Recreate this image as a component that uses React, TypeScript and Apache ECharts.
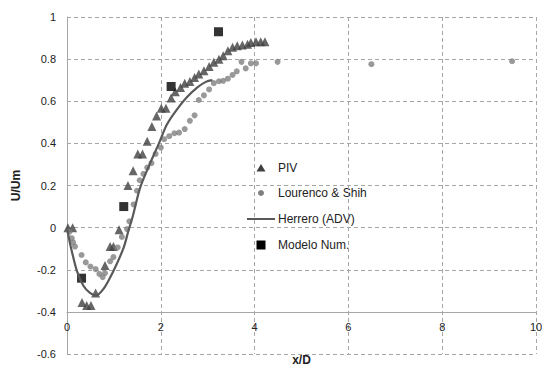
import React, { useEffect, useRef } from "react";
import * as echarts from "echarts";

const pivX = [0.02, 0.12, 0.32, 0.42, 0.51, 0.61, 0.81, 0.92, 0.99, 1.11, 1.3, 1.41, 1.51, 1.61, 1.71, 1.81, 1.91, 2.01, 2.11, 2.22, 2.31, 2.42, 2.51, 2.62, 2.72, 2.81, 2.92, 3.03, 3.13, 3.24, 3.33, 3.43, 3.53, 3.63, 3.74, 3.85, 3.92, 4.03, 4.13, 4.22];
const pivY = [0.0, 0.0, -0.355, -0.37, -0.37, -0.31, -0.18, -0.09, -0.09, -0.01, 0.2, 0.27, 0.35, 0.35, 0.41, 0.48, 0.53, 0.567, 0.567, 0.615, 0.645, 0.665, 0.686, 0.694, 0.713, 0.729, 0.745, 0.765, 0.785, 0.8, 0.816, 0.84, 0.856, 0.863, 0.867, 0.871, 0.879, 0.882, 0.882, 0.882];

const lsX = [0.05, 0.1, 0.13, 0.17, 0.31, 0.4, 0.5, 0.61, 0.69, 0.76, 0.81, 0.92, 0.99, 1.08, 1.17, 1.28, 1.33, 1.42, 1.49, 1.55, 1.63, 1.71, 1.8, 1.89, 2.0, 2.07, 2.18, 2.29, 2.39, 2.51, 2.62, 2.72, 2.81, 2.92, 3.03, 3.13, 3.24, 3.33, 3.43, 3.53, 3.62, 3.72, 3.81, 3.92, 4.03, 4.49, 6.49, 9.49];
const lsY = [-0.02, -0.05, -0.07, -0.09, -0.13, -0.165, -0.185, -0.197, -0.22, -0.235, -0.216, -0.16, -0.14, -0.094, -0.044, -0.007, 0.03, 0.11, 0.175, 0.225, 0.255, 0.285, 0.306, 0.35, 0.38, 0.42, 0.434, 0.448, 0.451, 0.468, 0.507, 0.533, 0.606, 0.628, 0.656, 0.686, 0.695, 0.697, 0.707, 0.725, 0.742, 0.787, 0.756, 0.78, 0.78, 0.787, 0.776, 0.79];

const advX = [0, 0.05, 0.1, 0.21, 0.35, 0.49, 0.62, 0.78, 0.92, 1.06, 1.21, 1.31, 1.41, 1.56, 1.78, 1.96, 2.13, 2.35, 2.56, 2.78, 2.96, 3.1];
const advY = [0, -0.06, -0.11, -0.205, -0.276, -0.31, -0.322, -0.29, -0.237, -0.173, -0.094, -0.015, 0.06, 0.19, 0.31, 0.4, 0.49, 0.563, 0.62, 0.666, 0.692, 0.7];

const modX = [0.31, 1.21, 2.22, 3.23];
const modY = [-0.24, 0.1, 0.67, 0.93];

const yTicks = [-0.6, -0.4, -0.2, 0, 0.2, 0.4, 0.6, 0.8, 1];
const xTicks = [0, 2, 4, 6, 8, 10];

const seriesNames = ["PIV", "Lourenco & Shih", "Herrero (ADV)", "Modelo Num."];

const zip = (xs: number[], ys: number[]) => xs.map((x, i) => [x, ys[i]]);

export default function App() {
  const ref = useRef<HTMLDivElement>(null);
  useEffect(() => {
    if (!ref.current) return;
    const chart = echarts.init(ref.current, null, { renderer: "svg" });
    const font = "Liberation Sans";
    const gridColor = "#a6a6a6";
    const txt = "#222";
    const lx = 261; // legend marker centre x
    const ly = [168, 193, 219, 245];
    const tx = 278;
    const legendText = (i: number) => ({
      type: "text",
      x: tx,
      y: ly[i],
      style: { text: seriesNames[i], fill: txt, font: `12px "${font}"`, textVerticalAlign: "middle", verticalAlign: "middle" },
    });
    chart.setOption({
      animation: false,
      textStyle: { fontFamily: font },
      grid: { left: 67, right: 6, top: 17, bottom: 15, containLabel: false, outerBoundsMode: "none" },
      xAxis: {
        type: "value",
        min: xTicks[0],
        max: xTicks[xTicks.length - 1],
        interval: 2,
        offset: -42.1,
        axisLine: { show: true, onZero: false, lineStyle: { color: "#a6a6a6", width: 1 } },
        axisTick: { show: false },
        axisLabel: { color: txt, fontSize: 11, margin: 10, fontFamily: font },
        splitLine: { show: true, lineStyle: { color: gridColor, type: [4, 3], width: 1 } },
        name: "x/D",
        nameLocation: "middle",
        nameGap: 42,
        nameTextStyle: { fontWeight: "bold", fontSize: 12, color: txt, fontFamily: font },
      },
      yAxis: {
        type: "value",
        min: yTicks[0],
        max: yTicks[yTicks.length - 1],
        interval: 0.2,
        axisLine: { show: true, onZero: false, lineStyle: { color: "#a6a6a6", width: 1 } },
        axisTick: { show: false },
        axisLabel: {
          color: txt,
          fontSize: 11,
          margin: 11,
          fontFamily: font,
          formatter: (v: number) => String(Math.round(v * 10) / 10),
        },
        splitLine: { show: true, lineStyle: { color: gridColor, type: [4, 3], width: 1 } },
        name: "U/Um",
        nameLocation: "middle",
        nameGap: 45,
        nameTextStyle: { fontWeight: "bold", fontSize: 12, color: txt, fontFamily: font },
      },
      legend: { show: false, data: seriesNames },
      graphic: [
        {
          type: "polygon",
          shape: { points: [[lx, ly[0] - 4], [lx + 4.5, ly[0] + 3.5], [lx - 4.5, ly[0] + 3.5]] },
          style: { fill: "#404040" },
        },
        legendText(0),
        { type: "circle", shape: { cx: lx, cy: ly[1], r: 3 }, style: { fill: "#7f7f7f" } },
        legendText(1),
        { type: "line", shape: { x1: 247, y1: ly[2], x2: 275, y2: ly[2] }, style: { stroke: "#595959", lineWidth: 2 } },
        legendText(2),
        { type: "rect", shape: { x: lx - 4.5, y: ly[3] - 4.5, width: 9, height: 9 }, style: { fill: "#000" } },
        legendText(3),
      ],
      series: [
        {
          name: seriesNames[0],
          type: "scatter",
          symbol: "triangle",
          symbolSize: 9,
          itemStyle: { color: "#404040" },
          data: zip(pivX, pivY),
        },
        {
          name: seriesNames[1],
          type: "scatter",
          symbol: "circle",
          symbolSize: 6,
          itemStyle: { color: "#7f7f7f" },
          data: zip(lsX, lsY),
        },
        {
          name: seriesNames[2],
          type: "line",
          symbol: "none",
          smooth: 0.3,
          lineStyle: { color: "#595959", width: 2.2 },
          itemStyle: { color: "#595959" },
          data: zip(advX, advY),
        },
        {
          name: seriesNames[3],
          type: "scatter",
          symbol: "rect",
          symbolSize: 9,
          itemStyle: { color: "#000000" },
          data: zip(modX, modY),
        },
      ],
    });
    return () => chart.dispose();
  }, []);
  return (
    <div
      ref={ref}
      style={{ position: "fixed", left: 0, top: 0, width: 542, height: 369, background: "#fff" }}
    />
  );
}
